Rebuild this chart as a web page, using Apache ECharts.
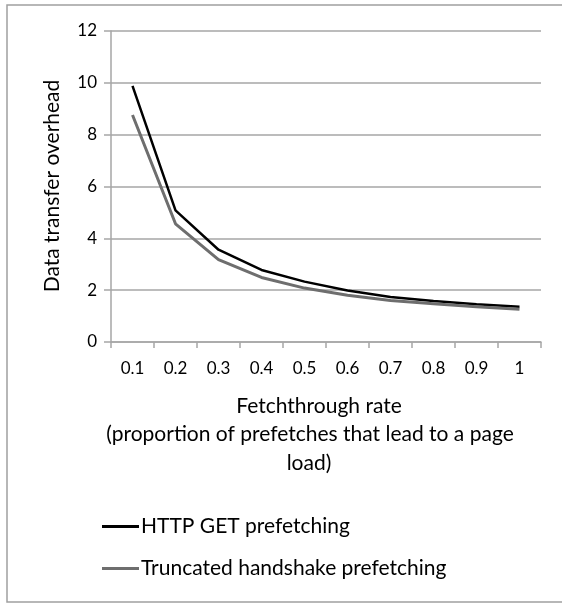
<!DOCTYPE html>
<html>
<head>
<meta charset="utf-8">
<script src="https://cdn.jsdelivr.net/npm/echarts@6/dist/echarts.min.js"></script>
<style>
html,body{margin:0;padding:0;background:#fff;}
#chart{width:562px;height:605px;}
</style>
</head>
<body>
<div id="chart"></div>
<script>
const categories = ['0.1','0.2','0.3','0.4','0.5','0.6','0.7','0.8','0.9','1'];
const httpGet = [9.88, 5.08, 3.56, 2.78, 2.33, 1.99, 1.74, 1.58, 1.46, 1.36];
const truncated = [8.76, 4.56, 3.18, 2.49, 2.08, 1.80, 1.60, 1.48, 1.36, 1.26];
const yTicks = { min: 0, max: 12, interval: 2 };
const seriesNames = ['HTTP GET prefetching', 'Truncated handshake prefetching'];
const yTitle = 'Data transfer overhead';
const xTitleLines = ['Fetchthrough rate', '(proportion of prefetches that lead to a page', 'load)'];

const FONT = 'Lato';
const grid = '#a6a6a6';
const chart = echarts.init(document.getElementById('chart'));
chart.setOption({
  animation: false,
  backgroundColor: '#fff',
  grid: { left: 111, right: 21, top: 31, bottom: 263, containLabel: false },
  xAxis: {
    type: 'category',
    data: categories,
    boundaryGap: true,
    axisLine: { show: true, lineStyle: { color: grid, width: 1.5 } },
    axisTick: { show: true, length: 6, lineStyle: { color: grid, width: 1.5 } },
    axisLabel: { color: '#000', fontFamily: FONT, fontSize: 17, margin: 18 },
    splitLine: { show: false }
  },
  yAxis: {
    type: 'value',
    min: yTicks.min, max: yTicks.max, interval: yTicks.interval,
    axisLine: { show: true, lineStyle: { color: grid, width: 1.5 } },
    axisTick: { show: true, length: 7, lineStyle: { color: grid, width: 1.5 } },
    axisLabel: { color: '#000', fontFamily: FONT, fontSize: 17, margin: 14 },
    splitLine: { show: true, lineStyle: { color: grid, width: 1.5 } }
  },
  legend: {
    orient: 'vertical',
    left: 97, top: 511,
    itemWidth: 37, itemHeight: 3,
    itemGap: 21,
    icon: 'rect',
    textStyle: { color: '#000', fontFamily: FONT, fontSize: 21, padding: [0,0,0,-3] },
    data: seriesNames
  },
  series: [
    { name: seriesNames[0], type: 'line', data: httpGet, symbol: 'none',
      lineStyle: { color: '#000', width: 2.5 }, itemStyle: { color: '#000' } },
    { name: seriesNames[1], type: 'line', data: truncated, symbol: 'none',
      lineStyle: { color: '#6e6e6e', width: 3 }, itemStyle: { color: '#6e6e6e' } }
  ],
  graphic: [
    { type: 'rect', shape: { x: 7, y: 5, width: 620, height: 597 }, silent: true,
      style: { fill: 'none', stroke: '#a0a0a0', lineWidth: 1.5 }, z: 100 },
    { type: 'text', x: 52, y: 186, rotation: Math.PI / 2,
      style: { text: yTitle, fontFamily: FONT, fontSize: 21, fill: '#000', align: 'center', verticalAlign: 'middle' } },
    { type: 'text', x: 319, y: 406,
      style: { text: xTitleLines[0], fontFamily: FONT, fontSize: 21, fill: '#000', align: 'center', verticalAlign: 'middle' } },
    { type: 'text', x: 310, y: 434,
      style: { text: xTitleLines[1], fontFamily: FONT, fontSize: 21, fill: '#000', align: 'center', verticalAlign: 'middle' } },
    { type: 'text', x: 309, y: 463,
      style: { text: xTitleLines[2], fontFamily: FONT, fontSize: 21, fill: '#000', align: 'center', verticalAlign: 'middle' } }
  ]
});
</script>
</body>
</html>
